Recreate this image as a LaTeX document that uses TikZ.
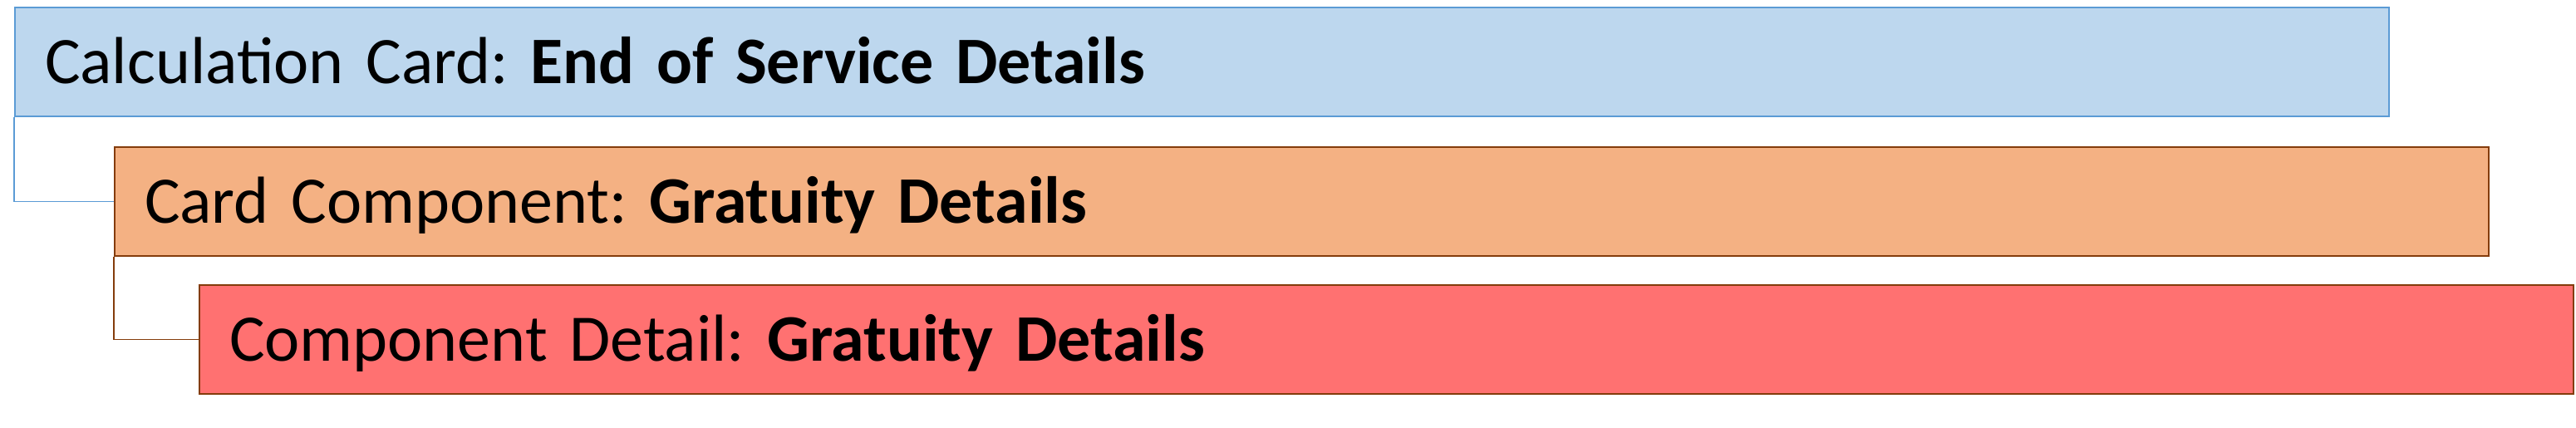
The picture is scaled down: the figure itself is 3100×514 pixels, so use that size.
\documentclass[tikz,border=0pt]{standalone}
\usepackage{fontspec}
\setmainfont{Carlito}
\frenchspacing
\definecolor{bluefill}{HTML}{BDD7EE}
\definecolor{blueline}{HTML}{5B9BD5}
\definecolor{orangefill}{HTML}{F4B183}
\definecolor{brownline}{HTML}{843C0C}
\definecolor{redfill}{HTML}{FF7171}
\begin{document}
\begin{tikzpicture}[x=1pt,y=-1pt,
  card/.style={rectangle, anchor=west, line width=2pt,
    minimum height=131pt, inner xsep=36pt, inner ysep=0pt,
    text width=2785pt, align=left, text height=51pt, text depth=0pt,
    font=\fontsize{80}{96}\selectfont\frenchspacing},
  link/.style={line width=1.2pt}]
\useasboundingbox (0,0) rectangle (3100,514);
\node[card, fill=bluefill, draw=blueline] (calc) at (17,74.5) {Calculation Card: \textbf{End of Service Details}};
\node[card, fill=orangefill, draw=brownline] (comp) at (137,242.5) {Card Component: \textbf{Gratuity Details}};
\node[card, fill=redfill, draw=brownline] (detail) at (239,408.5) {Component Detail: \textbf{Gratuity Details}};
\draw[link, draw=blueline] (calc.south west) |- (comp.west);
\draw[link, draw=brownline] (comp.south west) |- (detail.west);
\end{tikzpicture}
\end{document}
